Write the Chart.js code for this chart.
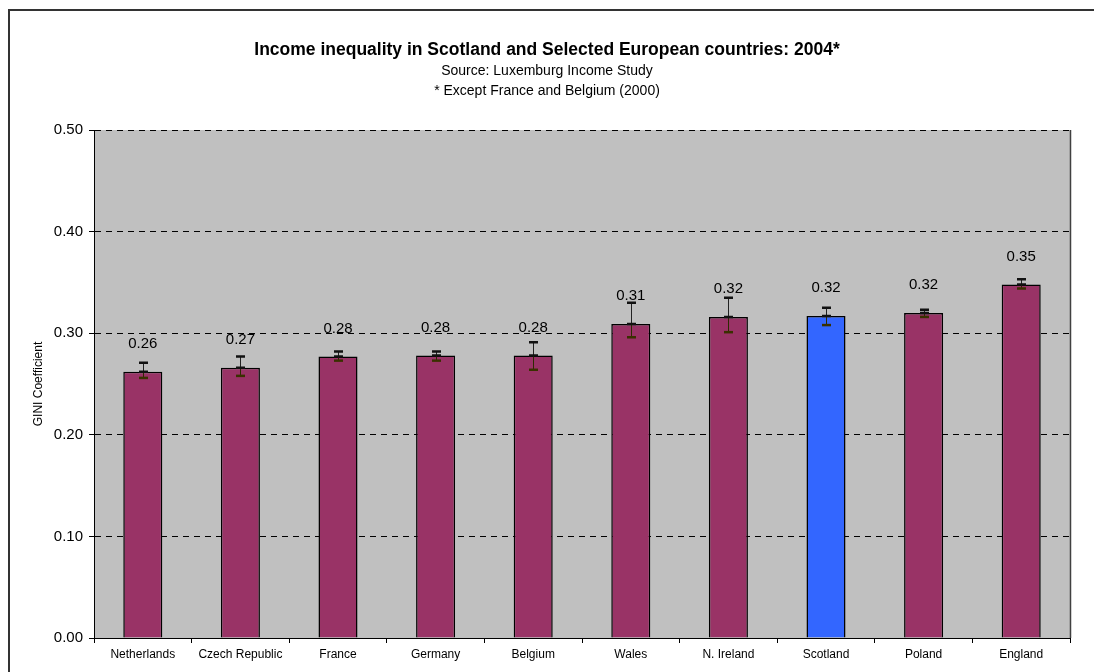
<!DOCTYPE html>
<html>
<head>
<meta charset="utf-8">
<script src="https://cdn.jsdelivr.net/npm/chart.js@4.4.0/dist/chart.umd.min.js"></script>
<style>
  html, body { margin: 0; padding: 0; background: #fff; }
  #wrap { width: 1094px; height: 672px; position: relative; }
</style>
</head>
<body>
<div id="wrap"><canvas id="gini"></canvas></div>
<script>
"use strict";

// data
const countries = ["Netherlands", "Czech Republic", "France", "Germany", "Belgium",
                   "Wales", "N. Ireland", "Scotland", "Poland", "England"];
const gini     = [0.262, 0.266, 0.277, 0.278, 0.278, 0.309, 0.316, 0.317, 0.320, 0.348];
const err_low  = [0.256, 0.258, 0.273, 0.273, 0.264, 0.296, 0.301, 0.308, 0.316, 0.344];
const err_high = [0.271, 0.277, 0.282, 0.282, 0.291, 0.330, 0.335, 0.325, 0.323, 0.353];
const y_ticks  = [0.0, 0.1, 0.2, 0.3, 0.4, 0.5];

const title_lines = [
    "Income inequality in Scotland and Selected European countries: 2004*",
    "Source: Luxemburg Income Study",
    "* Except France and Belgium (2000)"
];

const FONT = "Arial, 'Liberation Sans', sans-serif";
const MAROON = "#993366";
const BLUE = "#3366FF";

let bar_colours = countries.map(c => c === "Scotland" ? BLUE : MAROON);

/*
    frame, titles and plot background
*/
const backdrop_plugin = {
    id: "backdrop",
    beforeDraw: function (chart) {
        const ctx = chart.ctx;
        const a = chart.chartArea;
        ctx.save();
        ctx.fillStyle = "#ffffff";
        ctx.fillRect(0, 0, chart.width, chart.height);

        // outer frame (only top and left are inside the picture)
        ctx.strokeStyle = "#333333";
        ctx.lineWidth = 2;
        ctx.beginPath();
        ctx.moveTo(9, chart.height + 2);
        ctx.lineTo(9, 10);
        ctx.lineTo(chart.width + 2, 10);
        ctx.stroke();

        // plot area
        ctx.fillStyle = "#C0C0C0";
        ctx.fillRect(a.left, a.top, a.right - a.left, a.bottom - a.top);

        // titles
        ctx.fillStyle = "#000";
        ctx.textAlign = "center";
        ctx.textBaseline = "middle";
        ctx.font = "bold 17.5px " + FONT;
        ctx.fillText(title_lines[0], 547, 50);
        ctx.font = "14px " + FONT;
        ctx.fillText(title_lines[1], 547, 71);
        ctx.fillText(title_lines[2], 547, 91);
        ctx.restore();
    },
    afterDraw: function (chart) {
        const ctx = chart.ctx;
        const a = chart.chartArea;
        ctx.save();
        ctx.strokeStyle = "#404040";
        ctx.lineWidth = 1.5;
        ctx.beginPath();
        ctx.moveTo(a.right + 0.5, a.top);
        ctx.lineTo(a.right + 0.5, a.bottom);
        ctx.stroke();
        ctx.restore();
    }
};

/*
    error bars and value labels on top of the bars
*/
const error_bar_plugin = {
    id: "errorbars",
    afterDatasetsDraw: function (chart) {
        const ctx = chart.ctx;
        const ys = chart.scales.y;
        const bars = chart.getDatasetMeta(0).data;
        ctx.save();
        for (let i = 0; i < bars.length; ++i) {
            const x = Math.round(bars[i].x) + 0.5;
            const yv = ys.getPixelForValue(gini[i]);
            const yh = ys.getPixelForValue(err_high[i]);
            const yl = ys.getPixelForValue(err_low[i]);
            const cap = 4.5;

            ctx.lineWidth = 1;
            ctx.strokeStyle = "#222";
            ctx.beginPath();
            ctx.moveTo(x, yh);
            ctx.lineTo(x, yv);
            ctx.stroke();
            ctx.strokeStyle = "#2e2a00";
            ctx.beginPath();
            ctx.moveTo(x, yv);
            ctx.lineTo(x, yl);
            ctx.stroke();

            ctx.lineWidth = 2.5;
            ctx.strokeStyle = "#111";
            ctx.beginPath();
            ctx.moveTo(x - cap, yh);
            ctx.lineTo(x + cap, yh);
            ctx.moveTo(x - cap, yv);
            ctx.lineTo(x + cap, yv);
            ctx.stroke();
            ctx.strokeStyle = "#3a3000";
            ctx.beginPath();
            ctx.moveTo(x - cap, yl);
            ctx.lineTo(x + cap, yl);
            ctx.stroke();

            // value label
            ctx.fillStyle = "#000";
            ctx.font = "15px " + FONT;
            ctx.textAlign = "center";
            ctx.textBaseline = "middle";
            ctx.fillText(gini[i].toFixed(2), bars[i].x, yv - 28);
        }
        ctx.restore();
    }
};

let ctx = document.getElementById("gini").getContext("2d");
window.gini_chart = new Chart(ctx, {
    type: "bar",
    data: {
        labels: countries,
        datasets: [{
            label: "GINI Coefficient",
            data: gini,
            backgroundColor: bar_colours,
            borderColor: "#000",
            borderWidth: 1.5,
            categoryPercentage: 1.0,
            barPercentage: 0.4
        }]
    },
    options: {
        responsive: true,
        maintainAspectRatio: false,
        animation: false,
        devicePixelRatio: 1,
        layout: { padding: { top: 130, right: 24, left: 0, bottom: 0 } },
        plugins: {
            legend: { display: false },
            tooltip: { enabled: false },
            title: { display: false }
        },
        scales: {
            x: {
                afterFit: s => { s.height = 34; },
                grid: {
                    offset: true,
                    drawOnChartArea: false,
                    drawTicks: true,
                    tickLength: 5,
                    tickColor: "#000",
                    color: "#000"
                },
                border: { display: true, color: "#000", width: 1 },
                ticks: {
                    padding: 4,
                    color: "#000",
                    font: { family: FONT, size: 12 },
                    maxRotation: 0,
                    autoSkip: false
                }
            },
            y: {
                min: 0,
                max: 0.5,
                afterFit: s => { s.width = 94; },
                afterBuildTicks: s => { s.ticks = y_ticks.map(v => ({ value: v })); },
                grid: {
                    color: "#000",
                    lineWidth: 1,
                    drawTicks: true,
                    tickLength: 5,
                    tickColor: "#000",
                    tickBorderDash: []
                },
                border: { display: true, color: "#000", width: 1, dash: [6, 5] },
                ticks: {
                    padding: 6,
                    color: "#000",
                    font: { family: FONT, size: 15 },
                    callback: v => Number(v).toFixed(2)
                },
                title: {
                    display: true,
                    text: "GINI Coefficient",
                    color: "#000",
                    font: { family: FONT, size: 12 },
                    padding: { top: 31, bottom: 0 }
                }
            }
        }
    },
    plugins: [backdrop_plugin, error_bar_plugin]
});
</script>
</body>
</html>
